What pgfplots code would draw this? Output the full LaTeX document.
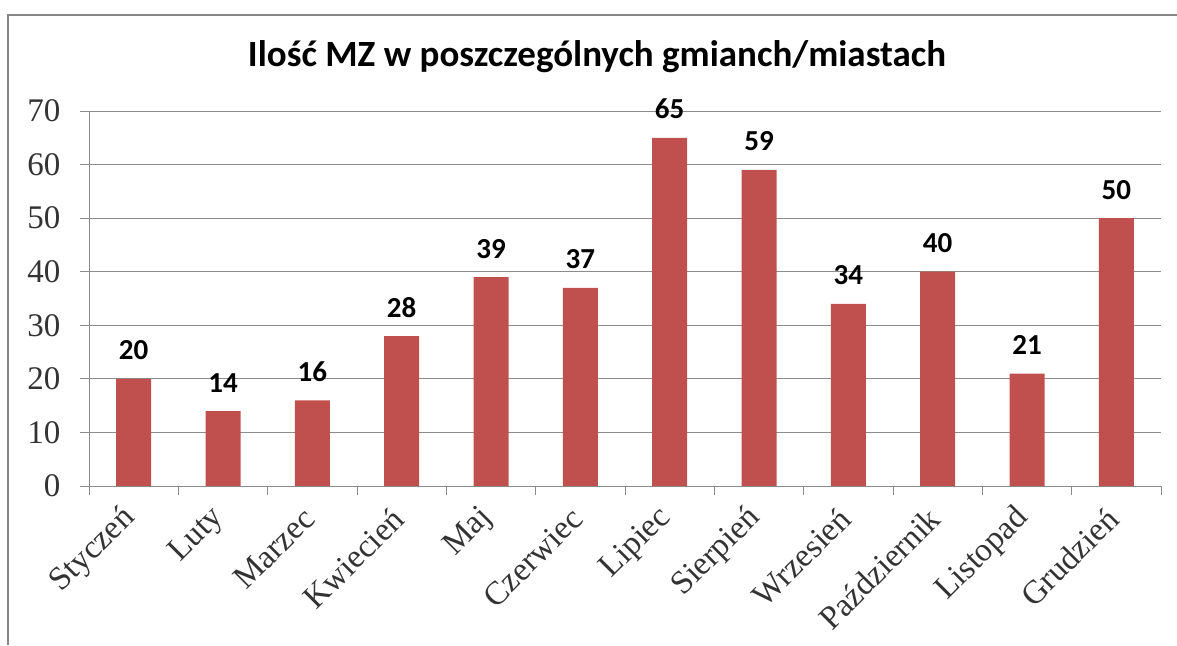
\documentclass[border=0pt]{standalone}
\usepackage{fontspec}
\setmainfont{Liberation Serif}
\newfontfamily\carlito{Carlito}
\usepackage{pgfplots}
\pgfplotsset{compat=1.18}
\definecolor{barred}{HTML}{C0504D}
\definecolor{gridgray}{HTML}{8C8C8C}
\definecolor{framegray}{HTML}{858585}
\begin{document}
\begin{tikzpicture}[x=1pt,y=1pt]
\path[use as bounding box] (0,0) rectangle (1177,645);
\draw[framegray, line width=2pt] (8,0) -- (8,630) -- (1177,630);
\node[font=\carlito\bfseries\fontsize{37}{42}\selectfont, anchor=center] at (597,588) {Ilość MZ w poszczególnych gmianch/miastach};
\begin{axis}[
  at={(89pt,159pt)}, anchor=south west,
  scale only axis, width=1072pt, height=375pt,
  xmin=-0.5, xmax=11.5, ymin=0, ymax=70,
  axis x line*=bottom, axis y line*=left,
  axis line style={gridgray, line width=1pt, -},
  ybar, bar width=35pt,
  ytick={0,10,...,70},
  ymajorgrids, grid style={gridgray, line width=1pt},
  ytick align=outside, major tick length=9pt,
  y tick style={gridgray, line width=1pt},
  xtick={0,...,11},
  x tick style={draw=none},
  minor xtick={-0.5,0.5,...,11.5},
  minor x tick style={draw=gridgray, line width=1pt},
  xtick align=outside, minor tick length=9pt,
  xticklabels={Styczeń,Luty,Marzec,Kwiecień,Maj,Czerwiec,Lipiec,Sierpień,Wrzesień,Październik,Listopad,Grudzień},
  /pgf/number format/assume math mode=true,
  yticklabel style={font=\fontsize{33}{38}\selectfont, text=black!80, anchor=east, xshift=-16pt},
  xticklabel style={font=\fontsize{33}{38}\selectfont, text=black!80, xshift=-1pt, yshift=-16pt, rotate=45, anchor=east},
  nodes near coords,
  every node near coord/.append style={font=\carlito\bfseries\fontsize{29}{33}\selectfont, text=black, anchor=base, inner sep=0pt, yshift=19pt},
]
\addplot[fill=barred, draw=none] coordinates {(0,20) (1,14) (2,16) (3,28) (4,39) (5,37) (6,65) (7,59) (8,34) (9,40) (10,21) (11,50)};
\end{axis}
\end{tikzpicture}
\end{document}
